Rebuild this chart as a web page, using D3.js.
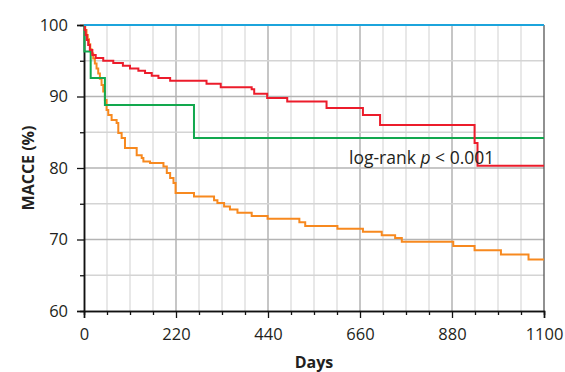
<!DOCTYPE html>
<html>
<head>
<meta charset="utf-8">
<script src="https://cdn.jsdelivr.net/npm/d3@7"></script>
<style>
  body { margin: 0; background: #fff; }
  text { font-family: "Open Sans", sans-serif; fill: #231f20; }
</style>
</head>
<body>
<script>
var w = 565;
var h = 372;

// survival curves: [day, MACCE-free %]
var blueDays = [0, 1100];
var blueVals = [100, 100];

var greenDays = [0, 1, 16, 50, 263, 1100];
var greenVals = [100, 96.3, 92.6, 88.8, 84.2, 84.2];

var redDays = [0, 2, 4, 7, 10, 14, 20, 28, 46, 70, 93, 110, 130, 146, 162, 178, 206, 293, 327, 401, 407, 438, 486, 580, 667, 708, 934, 941, 1100];
var redVals = [100, 99.3, 98.6, 97.9, 97.2, 96.5, 95.8, 95.4, 95.0, 94.7, 94.3, 93.9, 93.6, 93.3, 92.9, 92.6, 92.2, 91.8, 91.3, 91.0, 90.4, 89.8, 89.3, 88.4, 87.4, 86.0, 83.5, 80.3, 80.3];

var orangeDays = [0, 3, 6, 9, 12, 15, 18, 22, 26, 30, 34, 38, 42, 46, 50, 54, 58, 66, 78, 82, 90, 98, 126, 138, 142, 158, 190, 198, 206, 214, 219, 263, 311, 319, 335, 349, 367, 401, 439, 515, 529, 606, 667, 712, 744, 760, 883, 934, 997, 1063, 1100];
var orangeVals = [100, 99.3, 98.6, 98.0, 97.3, 96.6, 96.0, 95.3, 94.6, 93.9, 93.2, 92.5, 91.6, 90.7, 89.5, 88.1, 87.4, 86.7, 86.3, 84.9, 84.2, 82.8, 81.8, 81.4, 80.9, 80.7, 80.2, 79.3, 78.6, 77.9, 76.5, 76.0, 75.5, 75.1, 74.6, 74.2, 73.75, 73.3, 72.9, 72.4, 71.9, 71.5, 71.1, 70.6, 70.2, 69.7, 69.1, 68.5, 67.9, 67.2, 67.2];

var xMajor = [0, 220, 440, 660, 880, 1100];
var xMinor = [55, 110, 165, 275, 330, 385, 495, 550, 605, 715, 770, 825, 935, 990, 1045];
var yMajor = [60, 70, 80, 90, 100];
var yMinor = [65, 75, 85, 95];

var svg = d3.select("body")
  .append("svg")
  .attr("width", w)
  .attr("height", h);

var x = d3.scaleLinear().domain([0, 1100]).range([84, 544]);
var y = d3.scaleLinear().domain([60, 100]).range([311, 25]);

// grid
svg.selectAll(".vgrid")
  .data(xMinor.concat(xMajor.slice(1, 5)))
  .enter()
  .append("line")
  .attr("x1", function (d) { return x(d); })
  .attr("x2", function (d) { return x(d); })
  .attr("y1", y(60))
  .attr("y2", y(100))
  .attr("stroke", function (d) { return d % 220 == 0 ? "#a8a8a8" : "#dcdcdc"; })
  .attr("stroke-width", 1.3);

svg.selectAll(".hgrid")
  .data(yMinor.concat(yMajor.slice(1, 4)))
  .enter()
  .append("line")
  .attr("x1", x(0))
  .attr("x2", x(1100))
  .attr("y1", function (d) { return y(d); })
  .attr("y2", function (d) { return y(d); })
  .attr("stroke", function (d) { return d % 10 == 0 ? "#b4b4b4" : "#d4d4d4"; })
  .attr("stroke-width", 1.3);

// right frame
svg.append("line")
  .attr("x1", x(1100)).attr("x2", x(1100))
  .attr("y1", y(60)).attr("y2", y(100))
  .attr("stroke", "#555")
  .attr("stroke-width", 1.3);

// axes
var xAxisMinor = d3.axisBottom(x).tickValues(xMinor).tickSize(4).tickFormat("");
var xAxis = d3.axisBottom(x).tickValues(xMajor).tickSize(7).tickPadding(10).tickFormat(d3.format("d"));
var yAxisMinor = d3.axisLeft(y).tickValues(yMinor).tickSize(4).tickFormat("");
var yAxis = d3.axisLeft(y).tickValues(yMajor).tickSize(7).tickPadding(9);

svg.append("g").attr("transform", "translate(0," + y(60) + ")").call(xAxisMinor);
svg.append("g").attr("transform", "translate(0," + y(60) + ")").call(xAxis);
svg.append("g").attr("transform", "translate(" + x(0) + ",0)").call(yAxisMinor);
svg.append("g").attr("transform", "translate(" + x(0) + ",0)").call(yAxis);

svg.selectAll(".domain").attr("stroke", "#111").attr("stroke-width", 1.5);
svg.selectAll(".tick line").attr("stroke", "#111").attr("stroke-width", 1.3);
svg.selectAll(".tick text")
  .style("font-family", "'Open Sans', sans-serif")
  .style("font-size", "16.5px")
  .attr("fill", "#231f20");

// curves
var line = d3.line()
  .x(function (d) { return x(d[0]); })
  .y(function (d) { return y(d[1]); })
  .curve(d3.curveStepAfter);

var series = [
  { days: orangeDays, vals: orangeVals, color: "#f7891f" },
  { days: greenDays, vals: greenVals, color: "#12a84e" },
  { days: redDays, vals: redVals, color: "#ec1c2b" },
  { days: blueDays, vals: blueVals, color: "#1ca4dc" }
];

series.forEach(function (s) {
  var pts = s.days.map(function (d, i) { return [d, s.vals[i]]; });
  svg.append("path")
    .datum(pts)
    .attr("d", line)
    .attr("fill", "none")
    .attr("stroke", s.color)
    .attr("stroke-width", 2);
});

// labels
var lr = svg.append("text")
  .attr("x", 349)
  .attr("y", 164)
  .style("font-size", "17.5px");
lr.append("tspan").text("log-rank ");
lr.append("tspan").style("font-style", "italic").text("p");
lr.append("tspan").text(" < 0.001");

svg.append("text")
  .attr("x", x(550))
  .attr("y", 368)
  .attr("text-anchor", "middle")
  .style("font-size", "16px")
  .style("font-weight", "bold")
  .text("Days");

svg.append("text")
  .attr("transform", "translate(34," + y(80) + ") rotate(-90)")
  .attr("text-anchor", "middle")
  .style("font-size", "16px")
  .style("font-weight", "bold")
  .text("MACCE (%)");
</script>
</body>
</html>
